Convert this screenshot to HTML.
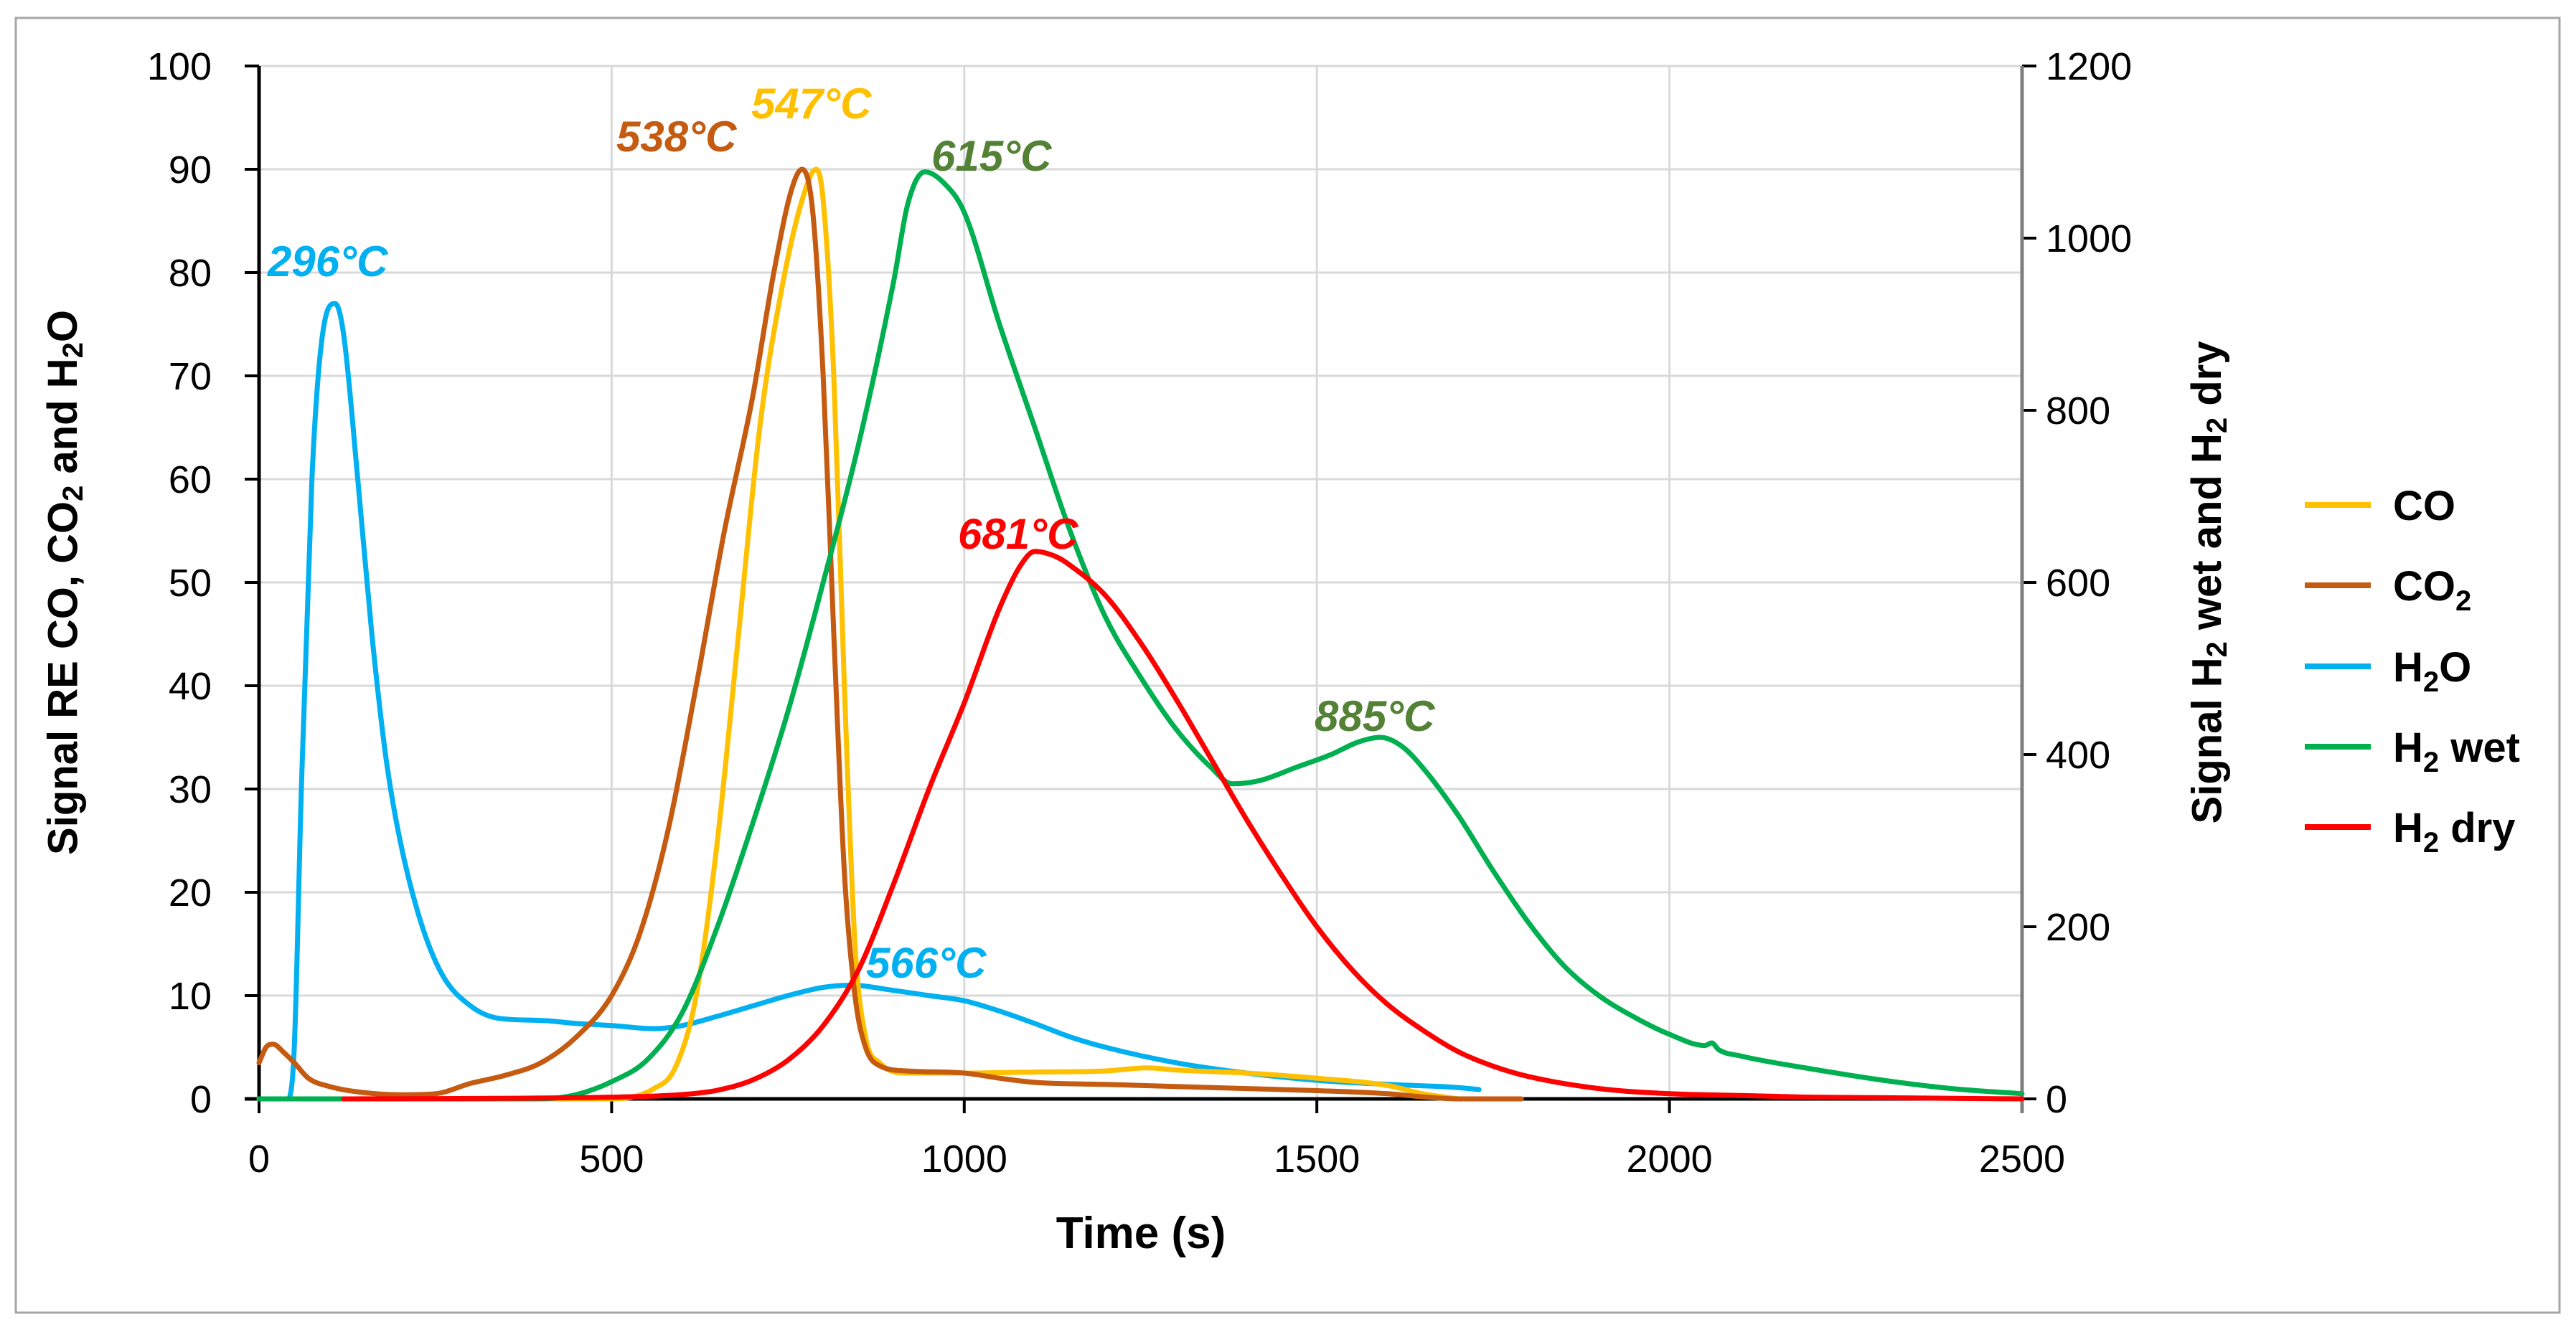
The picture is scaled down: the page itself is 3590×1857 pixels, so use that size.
<!DOCTYPE html>
<html><head><meta charset="utf-8"><style>
html,body{margin:0;padding:0;background:#fff;}
svg{display:block;font-family:"Liberation Sans",sans-serif;}
</style></head><body>
<svg id="chart" width="3590" height="1857" viewBox="0 0 3590 1857">
<rect x="22" y="25" width="3545" height="1805" fill="#fff" stroke="#A6A6A6" stroke-width="3"/>
<g id="grid"></g>
<g id="axes"></g>
<g id="series"></g>
<g id="labels"></g>
<text x="92" y="812" transform="rotate(-90 92 812)" text-anchor="middle" dominant-baseline="middle" font-size="58" font-weight="bold">Signal RE CO, CO<tspan font-size="40" dy="12">2</tspan><tspan dy="-12"> and H</tspan><tspan font-size="40" dy="12">2</tspan><tspan dy="-12">O</tspan></text>
<text x="3080" y="812" transform="rotate(-90 3080 812)" text-anchor="middle" dominant-baseline="middle" font-size="58" font-weight="bold">Signal H<tspan font-size="40" dy="12">2</tspan><tspan dy="-12"> wet and H</tspan><tspan font-size="40" dy="12">2</tspan><tspan dy="-12"> dry</tspan></text>
<text x="1590" y="1740" text-anchor="middle" font-size="62" font-weight="bold">Time (s)</text>
<g id="legend"></g>
</svg>
<script>
const NS="http://www.w3.org/2000/svg";
const xTicks=[0,500,1000,1500,2000,2500];
const yLeftTicks=[0,10,20,30,40,50,60,70,80,90,100];
const yRightTicks=[0,200,400,600,800,1000,1200];
const coT=[0,500,560,590,620,650,680,710,740,770,790,800,815,830,845,860,880,920,1000,1100,1200,1260,1300,1400,1500,1600,1650,1700];
const coV=[0,0,1,3,10,25,45,65,78,87,90,87,70,40,15,6,3.5,2.5,2.5,2.6,2.7,3,2.8,2.5,2,1.3,0.5,0];
const co2T=[0,10,20,35,50,70,100,150,200,250,300,350,400,450,500,540,580,620,660,700,730,755,770,785,800,815,830,845,860,880,920,1000,1050,1100,1200,1300,1400,1500,1600,1650,1700,1790];
const co2V=[3.5,5,5.3,4.5,3.5,2,1.2,0.6,0.4,0.5,1.5,2.3,3.5,6,10,16,26,40,55,68,80,88,90,86,70,45,22,10,5,3.2,2.7,2.5,2,1.6,1.4,1.2,1,0.8,0.5,0.2,0,0];
const h2oT=[0,40,50,60,75,90,108,120,140,160,180,200,230,260,300,340,400,450,500,560,600,650,700,750,800,840,900,950,1000,1050,1100,1150,1200,1300,1400,1500,1600,1700,1730];
const h2oV=[0,0,5,30,60,74,77,74,60,45,33,25,17,12,9,7.8,7.6,7.3,7.1,6.8,7.1,8,9,10,10.8,11,10.5,10,9.5,8.5,7.3,6,5,3.5,2.5,1.8,1.4,1.1,0.9];
const wetT=[0,400,450,500,550,600,650,700,750,800,850,900,920,944,970,1000,1050,1100,1150,1200,1250,1300,1350,1380,1420,1470,1520,1560,1590,1620,1650,1700,1750,1800,1850,1900,1950,2000,2050,2060,2070,2100,2200,2300,2400,2500];
const wetV=[0,0,5,20,45,100,200,320,450,600,760,950,1040,1077,1065,1030,900,780,660,560,490,430,385,366,370,385,400,415,420,410,385,330,265,205,155,120,95,75,62,65,57,50,35,22,12,6];
const dryT=[120,500,600,650,700,750,800,850,900,950,1000,1050,1080,1100,1130,1150,1200,1250,1300,1350,1400,1450,1500,1550,1600,1650,1700,1750,1800,1900,2000,2100,2200,2500];
const dryV=[0,2,5,10,22,45,85,150,250,360,460,570,620,636,630,620,585,530,465,395,325,260,200,150,110,80,55,38,26,12,6,4,2,0];

const X0=361,X1=2818,Y0=1532,Y1=92;
const xs=t=>X0+(t/2500)*(X1-X0);
const yl=v=>Y0-(v/100)*(Y0-Y1);
const yr=v=>Y0-(v/1200)*(Y0-Y1);
function mk(tag,attrs,parent){const e=document.createElementNS(NS,tag);for(const k in attrs)e.setAttribute(k,attrs[k]);parent.appendChild(e);return e;}
const grid=document.getElementById('grid'),axes=document.getElementById('axes'),ser=document.getElementById('series'),lab=document.getElementById('labels'),leg=document.getElementById('legend');

yLeftTicks.forEach(v=>{
  if(v>0){const g=mk('line',{x1:X0,x2:X1,y1:yl(v),y2:yl(v),stroke:'#D9D9D9','stroke-width':3},grid);
  
  }
  const t=mk('line',{x1:X0-20,x2:X0,y1:yl(v),y2:yl(v),stroke:'#000','stroke-width':4},axes);
  
  
  const l=mk('text',{x:295,y:yl(v)+19,'text-anchor':'end','font-size':54},axes);l.textContent=v;
  
  
});
xTicks.forEach(v=>{
  if(v>0&&v<2500){const g=mk('line',{x1:xs(v),x2:xs(v),y1:Y1,y2:Y0,stroke:'#D9D9D9','stroke-width':3},grid);
  
  }
  const t=mk('line',{x1:xs(v),x2:xs(v),y1:Y0,y2:Y0+20,stroke:'#000','stroke-width':4},axes);
  
  
  const l=mk('text',{x:xs(v),y:1634,'text-anchor':'middle','font-size':54},axes);l.textContent=v;
  
  
});
yRightTicks.forEach(v=>{
  const t=mk('line',{x1:X1,x2:X1+20,y1:yr(v),y2:yr(v),stroke:'#000','stroke-width':4},axes);
  
  
  const l=mk('text',{x:2851,y:yr(v)+19,'text-anchor':'start','font-size':54},axes);l.textContent=v;
  
  
});
let a=mk('line',{x1:X0,x2:X0,y1:Y1,y2:Y0,stroke:'#000','stroke-width':5},axes);


a=mk('line',{x1:X1,x2:X1,y1:Y1,y2:Y0+20,stroke:'#7F7F7F','stroke-width':5},axes);


a=mk('line',{x1:X0-20,x2:X1,y1:Y0,y2:Y0,stroke:'#000','stroke-width':5},axes);



function smoothPath(P){
  const n=P.length;if(n<3)return P.map((p,i)=>(i?'L':'M')+p[0]+','+p[1]).join('');
  const d=[],m=[];
  for(let i=0;i<n-1;i++){const dx=P[i+1][0]-P[i][0];d.push(dx===0?0:(P[i+1][1]-P[i][1])/dx);}
  m[0]=d[0];m[n-1]=d[n-2];
  for(let i=1;i<n-1;i++){m[i]=(d[i-1]*d[i]<=0)?0:(d[i-1]+d[i])/2;}
  for(let i=0;i<n-1;i++){if(d[i]===0){m[i]=0;m[i+1]=0;continue;}
    const al=m[i]/d[i],be=m[i+1]/d[i],s=al*al+be*be;
    if(s>9){const t=3/Math.sqrt(s);m[i]=t*al*d[i];m[i+1]=t*be*d[i];}}
  let s='M'+P[0][0].toFixed(1)+','+P[0][1].toFixed(1);
  for(let i=0;i<n-1;i++){const h=(P[i+1][0]-P[i][0])/3;
    s+='C'+(P[i][0]+h).toFixed(1)+','+(P[i][1]+m[i]*h).toFixed(1)+' '+(P[i+1][0]-h).toFixed(1)+','+(P[i+1][1]-m[i+1]*h).toFixed(1)+' '+P[i+1][0].toFixed(1)+','+P[i+1][1].toFixed(1);}
  return s;
}
function line(T,V,ys,color,name){
  const P=T.map((t,i)=>[xs(t),ys(V[i])]);
  const p=mk('path',{d:smoothPath(P),fill:'none',stroke:color,'stroke-width':7,'stroke-linejoin':'round','stroke-linecap':'round'},ser);
  
  
}
line(h2oT,h2oV,yl,'#00B0F0','h2o-line');
line(coT,coV,yl,'#FFC000','co-line');
line(co2T,co2V,yl,'#C55A11','co2-line');
line(wetT,wetV,yr,'#00B050','h2-wet-line');
line(dryT,dryV,yr,'#FF0000','h2-dry-line');

const annText=['296°C','538°C','547°C','615°C','681°C','885°C','566°C'];
const annColor=['#00B0F0','#C55A11','#FFC000','#538135','#FF0000','#538135','#00B0F0'];
const annPos=[[373,385],[859,211],[1047,165],[1298,238],[1335,765],[1832,1019],[1207,1363]];
annText.forEach((s,i)=>{
  const t=mk('text',{x:annPos[i][0],y:annPos[i][1],'font-size':60,'font-weight':'bold','font-style':'italic',fill:annColor[i]},lab);
  t.textContent=s;
  
  
});

const legY=[704,816,929,1041,1153];
const legC=['#FFC000','#C55A11','#00B0F0','#00B050','#FF0000'];
const legHTML=['CO','CO<tspan font-size="40" dy="14">2</tspan>','H<tspan font-size="40" dy="14">2</tspan><tspan dy="-14">O</tspan>','H<tspan font-size="40" dy="14">2</tspan><tspan dy="-14"> wet</tspan>','H<tspan font-size="40" dy="14">2</tspan><tspan dy="-14"> dry</tspan>'];
legY.forEach((y,i)=>{
  const g=mk('g',{},leg);
  
  
  mk('line',{x1:3212,x2:3304,y1:y,y2:y,stroke:legC[i],'stroke-width':8},g);
  const t=mk('text',{x:3335,y:y+21,'font-size':58,'font-weight':'bold'},g);
  t.innerHTML=legHTML[i];
});
</script>
</body></html>
